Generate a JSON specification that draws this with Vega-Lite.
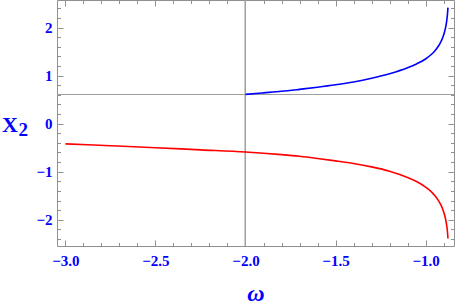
{
  "$schema": "https://vega.github.io/schema/vega-lite/v6.json",
  "width": 397,
  "height": 246,
  "autosize": "none",
  "padding": {"left": 57, "top": 0, "right": 3, "bottom": 61},
  "background": "white",
  "config": {
    "view": {"stroke": "#909090", "strokeWidth": 1},
    "axis": {
      "domain": false,
      "grid": false,
      "tickColor": "#909090",
      "tickWidth": 1,
      "labelFont": "Liberation Serif",
      "labelFontWeight": "bold",
      "labelColor": "#0000ff",
      "labelFontSize": 15,
      "titleFont": "Liberation Serif",
      "titleColor": "#0000ff"
    }
  },
  "data": {
    "values": [
      {"w": -2.0, "X2": 0.61, "series": "blue"},
      {"w": -1.9, "X2": 0.641, "series": "blue"},
      {"w": -1.8, "X2": 0.673, "series": "blue"},
      {"w": -1.7, "X2": 0.714, "series": "blue"},
      {"w": -1.6, "X2": 0.758, "series": "blue"},
      {"w": -1.5, "X2": 0.808, "series": "blue"},
      {"w": -1.4, "X2": 0.867, "series": "blue"},
      {"w": -1.3, "X2": 0.943, "series": "blue"},
      {"w": -1.2, "X2": 1.037, "series": "blue"},
      {"w": -1.1, "X2": 1.162, "series": "blue"},
      {"w": -1.05, "X2": 1.243, "series": "blue"},
      {"w": -1.0, "X2": 1.345, "series": "blue"},
      {"w": -0.97, "X2": 1.433, "series": "blue"},
      {"w": -0.95, "X2": 1.508, "series": "blue"},
      {"w": -0.93, "X2": 1.605, "series": "blue"},
      {"w": -0.915, "X2": 1.703, "series": "blue"},
      {"w": -0.905, "X2": 1.788, "series": "blue"},
      {"w": -0.895, "X2": 1.902, "series": "blue"},
      {"w": -0.888, "X2": 2.013, "series": "blue"},
      {"w": -0.882, "X2": 2.15, "series": "blue"},
      {"w": -0.878, "X2": 2.288, "series": "blue"},
      {"w": -0.8755, "X2": 2.415, "series": "blue"},
      {"w": -3.0, "X2": -0.42, "series": "red"},
      {"w": -2.75, "X2": -0.46, "series": "red"},
      {"w": -2.5, "X2": -0.5, "series": "red"},
      {"w": -2.25, "X2": -0.545, "series": "red"},
      {"w": -2.0, "X2": -0.59, "series": "red"},
      {"w": -1.9, "X2": -0.615, "series": "red"},
      {"w": -1.8, "X2": -0.645, "series": "red"},
      {"w": -1.7, "X2": -0.68, "series": "red"},
      {"w": -1.6, "X2": -0.725, "series": "red"},
      {"w": -1.5, "X2": -0.775, "series": "red"},
      {"w": -1.4, "X2": -0.83, "series": "red"},
      {"w": -1.3, "X2": -0.9, "series": "red"},
      {"w": -1.2, "X2": -0.99, "series": "red"},
      {"w": -1.1, "X2": -1.12, "series": "red"},
      {"w": -1.05, "X2": -1.205, "series": "red"},
      {"w": -1.0, "X2": -1.32, "series": "red"},
      {"w": -0.97, "X2": -1.41, "series": "red"},
      {"w": -0.95, "X2": -1.49, "series": "red"},
      {"w": -0.93, "X2": -1.59, "series": "red"},
      {"w": -0.915, "X2": -1.69, "series": "red"},
      {"w": -0.905, "X2": -1.775, "series": "red"},
      {"w": -0.895, "X2": -1.89, "series": "red"},
      {"w": -0.888, "X2": -2.0, "series": "red"},
      {"w": -0.882, "X2": -2.13, "series": "red"},
      {"w": -0.878, "X2": -2.26, "series": "red"},
      {"w": -0.8755, "X2": -2.39, "series": "red"}
    ]
  },
  "layer": [
    {
      "mark": {"type": "rule", "color": "#a0a0a0", "strokeWidth": 1},
      "encoding": {
        "x": {"datum": -2, "type": "quantitative", "axis": null, "scale": {"domain": [-3.04694, -0.84194], "nice": false, "zero": false}}
      }
    },
    {
      "mark": {"type": "rule", "color": "#a0a0a0", "strokeWidth": 1},
      "encoding": {
        "y": {"datum": 0.6065, "type": "quantitative", "axis": null, "scale": {"domain": [-2.546, 2.573], "nice": false, "zero": false}}
      }
    },
    {
      "mark": {"type": "line", "strokeWidth": 1.6, "interpolate": "monotone"},
      "encoding": {
        "x": {"field": "w", "type": "quantitative", "scale": {"domain": [-3.04694, -0.84194], "nice": false, "zero": false},
          "axis": {"orient": "bottom", "values": [-3, -2.5, -2, -1.5, -1], "format": ".1f", "ticks": false, "labelPadding": 7,
            "labelFont": "Liberation Serif", "labelFontWeight": "bold", "labelFontSize": 15, "labelColor": "#0000ff",
            "title": "ω", "titleFont": "Liberation Serif", "titleFontSize": 24, "titleFontStyle": "italic", "titleFontWeight": "bold", "titleBaseline": "alphabetic", "titleY": 54}},
        "y": {"field": "X2", "type": "quantitative", "scale": {"domain": [-2.546, 2.573], "nice": false, "zero": false},
          "axis": {"orient": "left", "values": [-2, -1, 0, 1, 2], "format": "d", "ticks": false, "labelPadding": 5,
            "labelFont": "Liberation Serif", "labelFontWeight": "bold", "labelFontSize": 15, "labelColor": "#0000ff",
            "title": "X", "titleFont": "Liberation Serif", "titleAngle": 0, "titleFontSize": 22, "titleFontWeight": "bold", "titleAlign": "left", "titleBaseline": "alphabetic", "titleX": -55.5, "titleY": 131.5}},
        "color": {"field": "series", "type": "nominal", "scale": {"domain": ["blue", "red"], "range": ["#0000ff", "#ff0000"]}, "legend": null},
        "order": {"field": "w", "type": "quantitative"}
      }
    },
    {
      "mark": {"type": "point", "opacity": 0},
      "encoding": {
        "x": {"field": "w", "type": "quantitative", "axis": {"orient": "bottom", "values": [-3, -2.5, -2, -1.5, -1], "labels": false, "tickSize": -6, "title": null}},
        "y": {"field": "X2", "type": "quantitative", "axis": {"orient": "left", "values": [-2, -1, 0, 1, 2], "labels": false, "tickSize": -6,
          "title": "2", "titleFont": "Liberation Serif", "titleAngle": 0, "titleFontSize": 19, "titleFontWeight": "bold", "titleColor": "#0000ff", "titleAlign": "left", "titleBaseline": "alphabetic", "titleX": -39, "titleY": 135}}
      }
    },
    {
      "mark": {"type": "point", "opacity": 0},
      "encoding": {
        "x": {"field": "w", "type": "quantitative", "axis": {"orient": "bottom", "values": [-3, -2.9, -2.8, -2.7, -2.6, -2.4, -2.3, -2.2, -2.1, -1.9, -1.8, -1.7, -1.6, -1.4, -1.3, -1.2, -1.1, -0.9], "labels": false, "tickSize": -3.5, "title": null}},
        "y": {"field": "X2", "type": "quantitative", "axis": {"orient": "left", "values": [-2.4, -2.2, -1.8, -1.6, -1.4, -1.2, -0.8, -0.6, -0.4, -0.2, 0.2, 0.4, 0.6, 0.8, 1.2, 1.4, 1.6, 1.8, 2.2, 2.4], "labels": false, "tickSize": -3.5, "title": null}}
      }
    },
    {
      "mark": {"type": "point", "opacity": 0},
      "encoding": {
        "x": {"field": "w", "type": "quantitative", "axis": {"orient": "top", "values": [-3, -2.5, -2, -1.5, -1], "labels": false, "tickSize": -6, "title": null}},
        "y": {"field": "X2", "type": "quantitative", "axis": {"orient": "right", "values": [-2, -1, 0, 1, 2], "labels": false, "tickSize": -6, "title": null}}
      }
    },
    {
      "mark": {"type": "point", "opacity": 0},
      "encoding": {
        "x": {"field": "w", "type": "quantitative", "axis": {"orient": "top", "values": [-3, -2.9, -2.8, -2.7, -2.6, -2.4, -2.3, -2.2, -2.1, -1.9, -1.8, -1.7, -1.6, -1.4, -1.3, -1.2, -1.1, -0.9], "labels": false, "tickSize": -3.5, "title": null}},
        "y": {"field": "X2", "type": "quantitative", "axis": {"orient": "right", "values": [-2.4, -2.2, -1.8, -1.6, -1.4, -1.2, -0.8, -0.6, -0.4, -0.2, 0.2, 0.4, 0.6, 0.8, 1.2, 1.4, 1.6, 1.8, 2.2, 2.4], "labels": false, "tickSize": -3.5, "title": null}}
      }
    }
  ],
  "resolve": {"axis": {"x": "independent", "y": "independent"}}
}
